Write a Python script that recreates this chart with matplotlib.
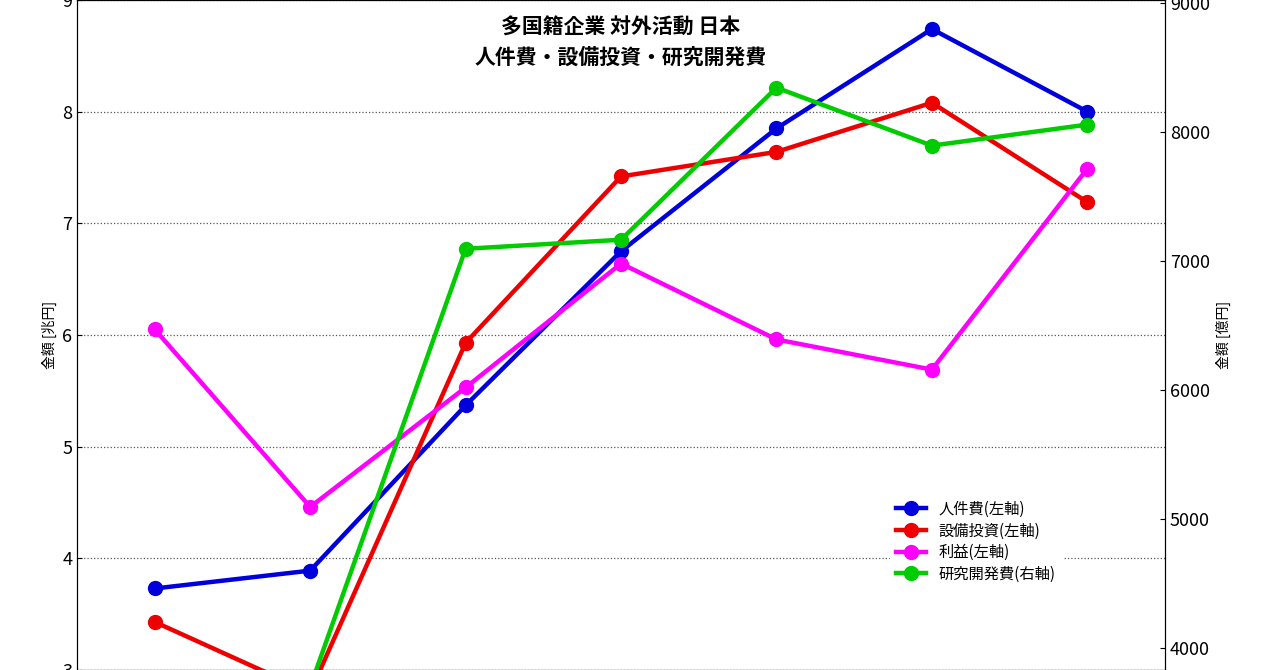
import numpy as np
import matplotlib
matplotlib.use("Agg")
import matplotlib.pyplot as plt

plt.rcParams["font.family"] = ["Noto Sans CJK JP", "DejaVu Sans"]

x_idx = [0, 1, 2, 3, 4, 5, 6]
personnel = [3.73, 3.89, 5.37, 6.75, 7.85, 8.74, 8.00]
capex = [3.43, 2.80, 5.93, 7.42, 7.64, 8.08, 7.19]
profit = [6.05, 4.46, 5.53, 6.64, 5.96, 5.69, 7.49]
rnd = [np.nan, 3700, 7093, 7163, 8341, 7892, 8055]

labels = ["人件費(左軸)", "設備投資(左軸)", "利益(左軸)", "研究開発費(右軸)"]
colors = ["#0000dd", "#ee0000", "#ff00ff", "#00cc00"]

fig = plt.figure(figsize=(12.8, 6.7), dpi=100)
ax = fig.add_axes([0.0602, 0.0, 0.85, 1.0])
ax2 = ax.twinx()

kw = dict(lw=3.2, marker="o", ms=10, clip_on=True)
h1, = ax.plot(x_idx, personnel, color=colors[0], label=labels[0], **kw)
h2, = ax.plot(x_idx, capex, color=colors[1], label=labels[1], **kw)
h3, = ax.plot(x_idx, profit, color=colors[2], label=labels[2], **kw)
h4, = ax2.plot(x_idx, rnd, color=colors[3], label=labels[3], **kw)

ax.set_xlim(-0.5, 6.5)
ax.set_ylim(3, 9)
ax2.set_ylim(3830, 9020)
ax.set_xticks([])
ax.set_yticks(range(3, 10))
ax2.set_yticks(range(4000, 9001, 1000))
ax.yaxis.grid(True, linestyle=":", color="#555555", lw=0.9)
ax.tick_params(axis="y", labelsize=13, direction="in")
ax2.tick_params(axis="y", labelsize=13, direction="in")
ax.set_ylabel("金額 [兆円]", fontsize=10)
ax2.set_ylabel("金額 [億円]", fontsize=10)

ax.text(0.5, 0.975, "多国籍企業 対外活動 日本\n人件費・設備投資・研究開発費",
        transform=ax.transAxes, ha="center", va="top", fontsize=15,
        fontweight="bold", linespacing=1.5)

leg = ax2.legend(handles=[h1, h2, h3, h4], loc="lower left",
                 bbox_to_anchor=(0.74, 0.11), fontsize=11, frameon=True,
                 handlelength=2.0, borderpad=0.4, labelspacing=0.3)
leg.get_frame().set_edgecolor("white")
leg.get_frame().set_facecolor("white")
leg.get_frame().set_alpha(1)

fig.savefig("out.png", dpi=100, facecolor="white")
